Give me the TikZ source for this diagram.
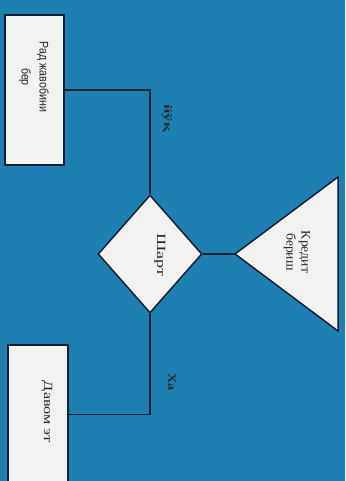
\documentclass[tikz,border=0pt]{standalone}
\usepackage{fontspec}
\setmainfont{Liberation Serif}
\setsansfont{Liberation Sans}
\usetikzlibrary{shapes.geometric}
\definecolor{bg}{RGB}{30,128,178}
\definecolor{ink}{RGB}{18,30,50}
\definecolor{paper}{RGB}{242,242,240}
\begin{document}
\begin{tikzpicture}[x=1pt,y=-1pt,
  shp/.style={draw=ink,fill=paper,line width=1.5pt,inner sep=0pt},
  conn/.style={draw=ink,line width=1.5pt},
  txt/.style={rotate=-90,inner sep=0pt,text=black!85,align=center},
]
\fill[bg] (0,0) rectangle (345,481);
\useasboundingbox (0,0) rectangle (345,481);
% boxes
\node[shp,minimum width=59pt,minimum height=150pt] (reject) at (34.5,90) {};
\node[shp,minimum width=60pt,minimum height=139pt] (cont) at (38,414.5) {};
\node[shp,diamond,minimum width=104pt,minimum height=118pt] (cond) at (150,254) {};
\coordinate (apex) at (235,254);
\coordinate (ttop) at (338,177);
\coordinate (tbot) at (338,331);
\draw[shp,line join=miter] (apex) -- (ttop) -- (tbot) -- cycle;
% texts
\node[txt,font=\sffamily\fontsize{12.5}{18}\selectfont] (rejectt) at (34,77)
  {\scalebox{0.85}[1]{Рад жавобини}\\\scalebox{0.85}[1]{бер}};
\node[txt,font=\fontsize{12.5}{14}\selectfont] (contt) at (47,412) {\scalebox{1.3}[1]{Давом эт}};
\node[txt,font=\fontsize{12.5}{14}\selectfont] (condt) at (160,255) {\scalebox{1.45}[1]{Шарт}};
\node[txt,font=\fontsize{13}{15}\selectfont] (kredt) at (297,252) {\scalebox{1.05}[1]{Кредит}\\\scalebox{1.05}[1]{бериш}};
\node[txt,font=\bfseries\fontsize{11}{13}\selectfont] (yoq) at (167,118) {\scalebox{1.5}[1]{йўқ}};
\node[txt,font=\bfseries\fontsize{11}{13}\selectfont] (ha) at (172,382) {\scalebox{1.3}[1]{Ха}};
% connectors
\draw[conn] (reject.east) -| (cond.north);
\draw[conn] (cont.east) -| (cond.south);
\draw[conn] (cond.east) -- (apex);
\end{tikzpicture}
\end{document}
